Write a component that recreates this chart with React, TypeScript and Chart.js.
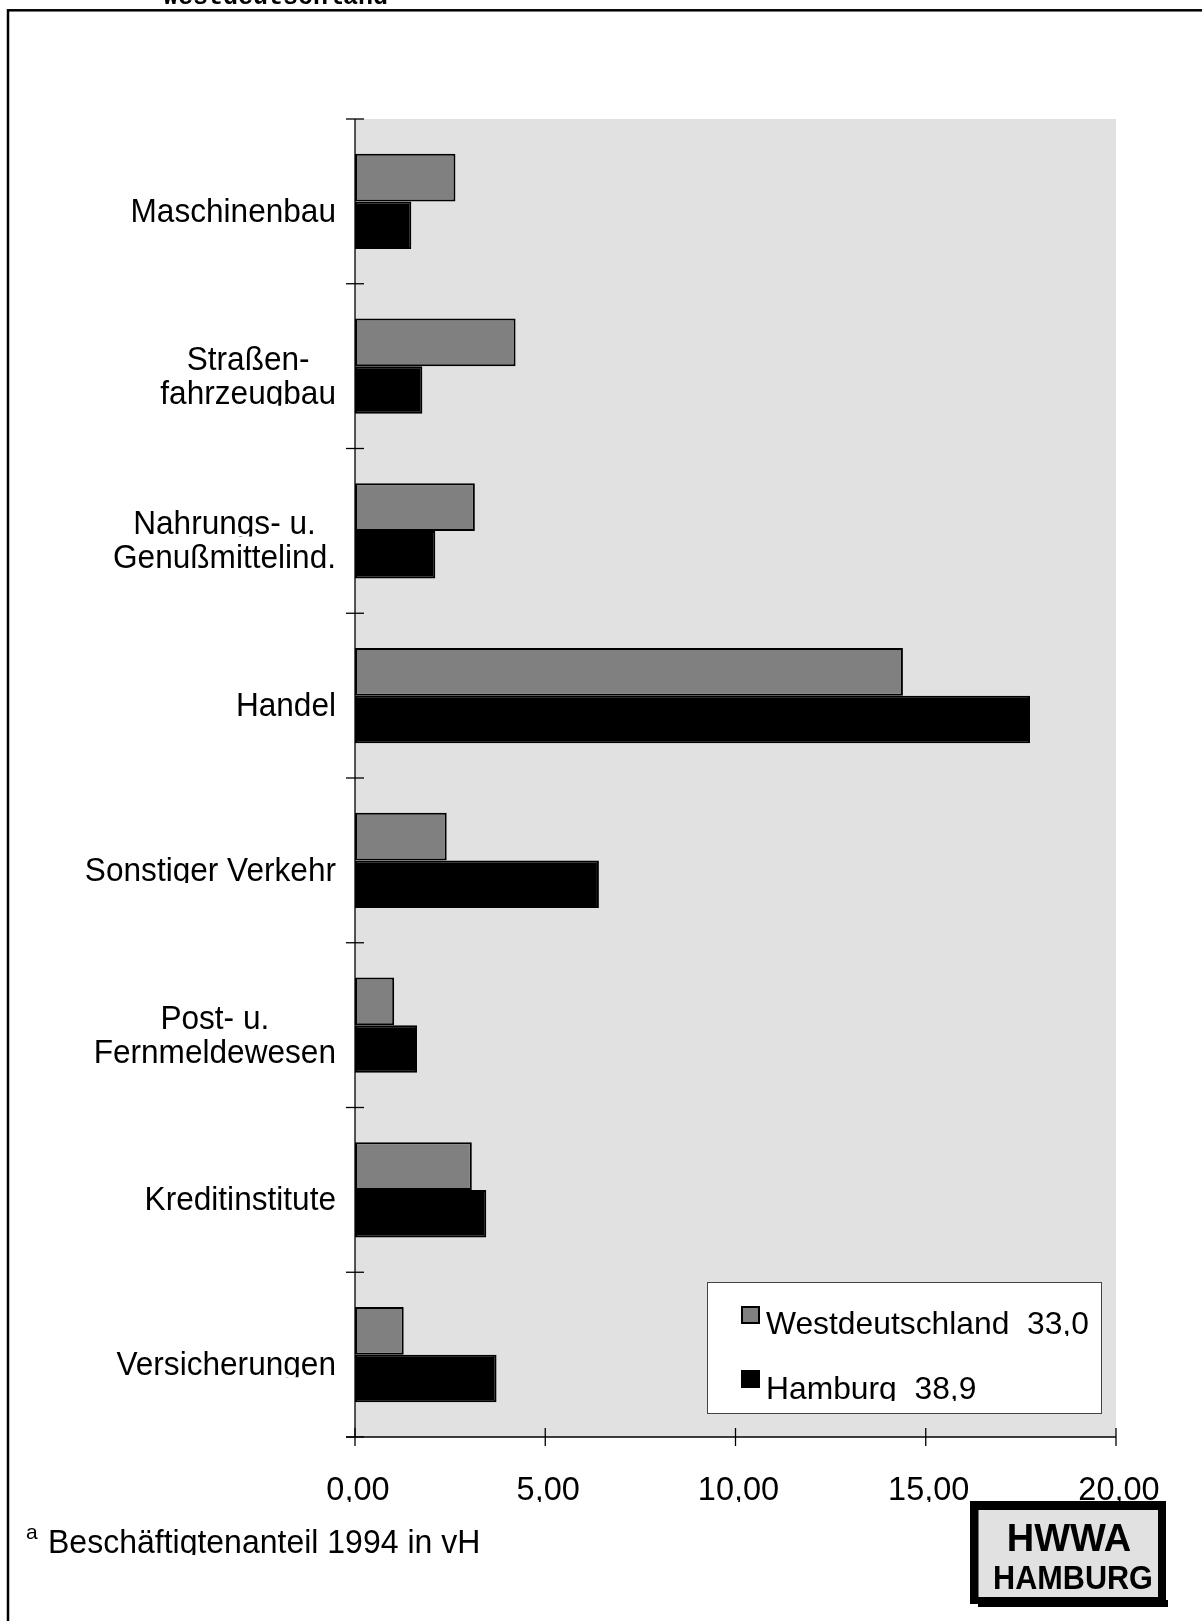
import React, { useEffect, useRef } from "react";
import { Chart, registerables } from "chart.js";

Chart.register(...registerables);

// ---- data ----
const categories: string[][] = [
  ["Maschinenbau"],
  ["Straßen-", "fahrzeugbau"],
  ["Nahrungs- u.", "Genußmittelind."],
  ["Handel"],
  ["Sonstiger Verkehr"],
  ["Post- u.", "Fernmeldewesen"],
  ["Kreditinstitute"],
  ["Versicherungen"],
];
const westdeutschland = [2.64, 4.22, 3.15, 14.4, 2.41, 1.03, 3.07, 1.28];
const hamburg = [1.48, 1.77, 2.11, 17.74, 6.41, 1.63, 3.45, 3.72];
const seriesNames = ["Westdeutschland", "Hamburg"];
const seriesTotals = ["33,0", "38,9"];
const xTickValues = [0, 5, 10, 15, 20];
const xTickLabels = ["0,00", "5,00", "10,00", "15,00", "20,00"];
const footnoteMark = "a";
const footnoteText = "Beschäftigtenanteil 1994 in vH";
const topTitle = "Westdeutschland";
const logoLines = ["HWWA", "HAMBURG"];

const W = 1202;
const H = 1621;
const SANS = '"Liberation Sans", Arial, sans-serif';

function drawText(
  ctx: CanvasRenderingContext2D,
  text: string,
  x: number,
  y: number,
  font: string,
  align: CanvasTextAlign,
  opts: { sx?: number; sy?: number; clip?: boolean; color?: string; spacing?: number } = {}
) {
  const { sx = 1, sy = 1, clip = true, color = "#000", spacing = 0 } = opts;
  ctx.save();
  ctx.translate(x, y);
  ctx.scale(sx, sy);
  if (clip) {
    ctx.beginPath();
    ctx.rect(-3000, -300, 6000, 300 + 2 / sy);
    ctx.clip();
  }
  ctx.font = font;
  (ctx as any).letterSpacing = spacing + "px";
  ctx.fillStyle = color;
  ctx.textAlign = align;
  ctx.textBaseline = "alphabetic";
  ctx.fillText(text, 0, 0);
  ctx.restore();
}

const decorPlugin = {
  id: "decor",
  beforeDatasetsDraw(chart: any) {
    const ctx: CanvasRenderingContext2D = chart.ctx;
    const { left, right, top, bottom } = chart.chartArea;
    ctx.save();
    ctx.fillStyle = "#e1e1e1";
    ctx.fillRect(left, top, right - left, bottom - top);
    ctx.restore();
  },
  afterDatasetsDraw(chart: any) {
    const ctx: CanvasRenderingContext2D = chart.ctx;
    const { left, right, top, bottom } = chart.chartArea;
    const xs = chart.scales.x;
    const ys = chart.scales.y;

    ctx.save();
    ctx.strokeStyle = "#000";
    ctx.lineWidth = 1.3;
    // y axis
    ctx.beginPath();
    ctx.moveTo(left, top);
    ctx.lineTo(left, bottom);
    ctx.stroke();
    // x axis
    ctx.beginPath();
    ctx.moveTo(left - 9, bottom);
    ctx.lineTo(right, bottom);
    ctx.stroke();
    // category boundary ticks
    for (let i = 0; i <= categories.length; i++) {
      const y = ys.getPixelForValue(i - 0.5);
      ctx.beginPath();
      ctx.moveTo(left - 9, y);
      ctx.lineTo(left + 9, y);
      ctx.stroke();
    }
    // x ticks
    xTickValues.forEach((v) => {
      const x = xs.getPixelForValue(v);
      ctx.beginPath();
      ctx.moveTo(x, bottom - 9);
      ctx.lineTo(x, bottom + 9);
      ctx.stroke();
    });
    ctx.restore();

    // x tick labels
    xTickValues.forEach((v, i) => {
      const x = xs.getPixelForValue(v);
      drawText(ctx, xTickLabels[i], x + 3, 1500, `32.5px ${SANS}`, "center", { sy: 1.05 });
    });

    // category labels (block right-aligned, lines centered)
    const labelFont = `31.6px ${SANS}`;
    const blockRight = 336;
    ctx.save();
    ctx.font = labelFont;
    categories.forEach((lines, i) => {
      const cy = ys.getPixelForValue(i);
      const widths = lines.map((l) => ctx.measureText(l).width);
      const maxW = Math.max(...widths);
      const cx = blockRight - maxW / 2;
      lines.forEach((l, j) => {
        const by = cy + 20.5 + (j - (lines.length - 1) / 2) * 34;
        drawText(ctx, l, cx, by, labelFont, "center", { sy: 1.06 });
      });
    });
    ctx.restore();

    // legend
    const lx = 707, ly = 1282, lw = 394, lh = 131;
    ctx.save();
    ctx.fillStyle = "#fff";
    ctx.fillRect(lx, ly, lw, lh);
    ctx.strokeStyle = "#444";
    ctx.lineWidth = 1;
    ctx.strokeRect(lx + 0.5, ly + 0.5, lw, lh);
    const dsColors = chart.data.datasets.map((d: any) => d.backgroundColor);
    [0, 1].forEach((k) => {
      const sy0 = 1306 + k * 64;
      ctx.fillStyle = dsColors[k];
      ctx.fillRect(741, sy0, 19, 18);
      ctx.strokeStyle = "#000";
      ctx.lineWidth = 2;
      ctx.strokeRect(742, sy0 + 1, 17, 16);
      drawText(ctx, `${seriesNames[k]}  ${seriesTotals[k]}`, 766, 1334 + k * 65, `31.8px ${SANS}`, "left", { sy: 1.0 });
    });
    ctx.restore();

    // footnote
    drawText(ctx, footnoteMark, 26, 1539, `21px ${SANS}`, "left", { clip: false });
    drawText(ctx, footnoteText, 48, 1553, `32px ${SANS}`, "left", { sy: 1.06 });

    // logo
    ctx.save();
    ctx.fillStyle = "#000";
    ctx.fillRect(970, 1501, 196, 103);
    ctx.fillRect(978, 1600, 190, 7);
    ctx.fillStyle = "#e1e1e1";
    ctx.fillRect(978.5, 1510, 179.5, 87);
    ctx.restore();
    drawText(ctx, logoLines[0], 1069, 1551, `bold 38px ${SANS}`, "center", { clip: false });
    drawText(ctx, logoLines[1], 1073, 1589, `bold 34px ${SANS}`, "center", { clip: false, sx: 0.9 });

    // outer frame
    ctx.save();
    ctx.strokeStyle = "#000";
    ctx.lineWidth = 2.5;
    ctx.strokeRect(8, 10.3, 1400, 1800);
    ctx.restore();

    // clipped top title
    drawText(ctx, topTitle, 163, 4, `bold 25px "Liberation Mono", "Courier New", monospace`, "left", { clip: false });
  },
};

export default function App() {
  const ref = useRef<HTMLCanvasElement | null>(null);
  useEffect(() => {
    if (!ref.current) return;
    const chart = new Chart(ref.current, {
      type: "bar",
      data: {
        labels: categories.map((c) => c.join(" ")),
        datasets: [
          {
            label: seriesNames[0],
            data: westdeutschland,
            backgroundColor: "#808080",
            borderColor: "#000",
            borderWidth: 2,
            borderSkipped: false,
            barPercentage: 1,
            categoryPercentage: 0.579,
          },
          {
            label: seriesNames[1],
            data: hamburg,
            backgroundColor: "#000",
            borderColor: "#000",
            borderWidth: 2,
            borderSkipped: false,
            barPercentage: 1,
            categoryPercentage: 0.579,
          },
        ],
      },
      options: {
        indexAxis: "y",
        responsive: false,
        maintainAspectRatio: false,
        animation: false,
        devicePixelRatio: 1,
        layout: { padding: { left: 355, right: 86, top: 119, bottom: 184 } },
        scales: {
          x: { min: 0, max: 20, display: false },
          y: { display: false, offset: true },
        },
        plugins: { legend: { display: false }, tooltip: { enabled: false } },
      },
      plugins: [decorPlugin],
    } as any);
    return () => chart.destroy();
  }, []);
  return (
    <canvas
      ref={ref}
      width={W}
      height={H}
      style={{ position: "absolute", left: 0, top: 0, width: W, height: H, display: "block" }}
    />
  );
}
